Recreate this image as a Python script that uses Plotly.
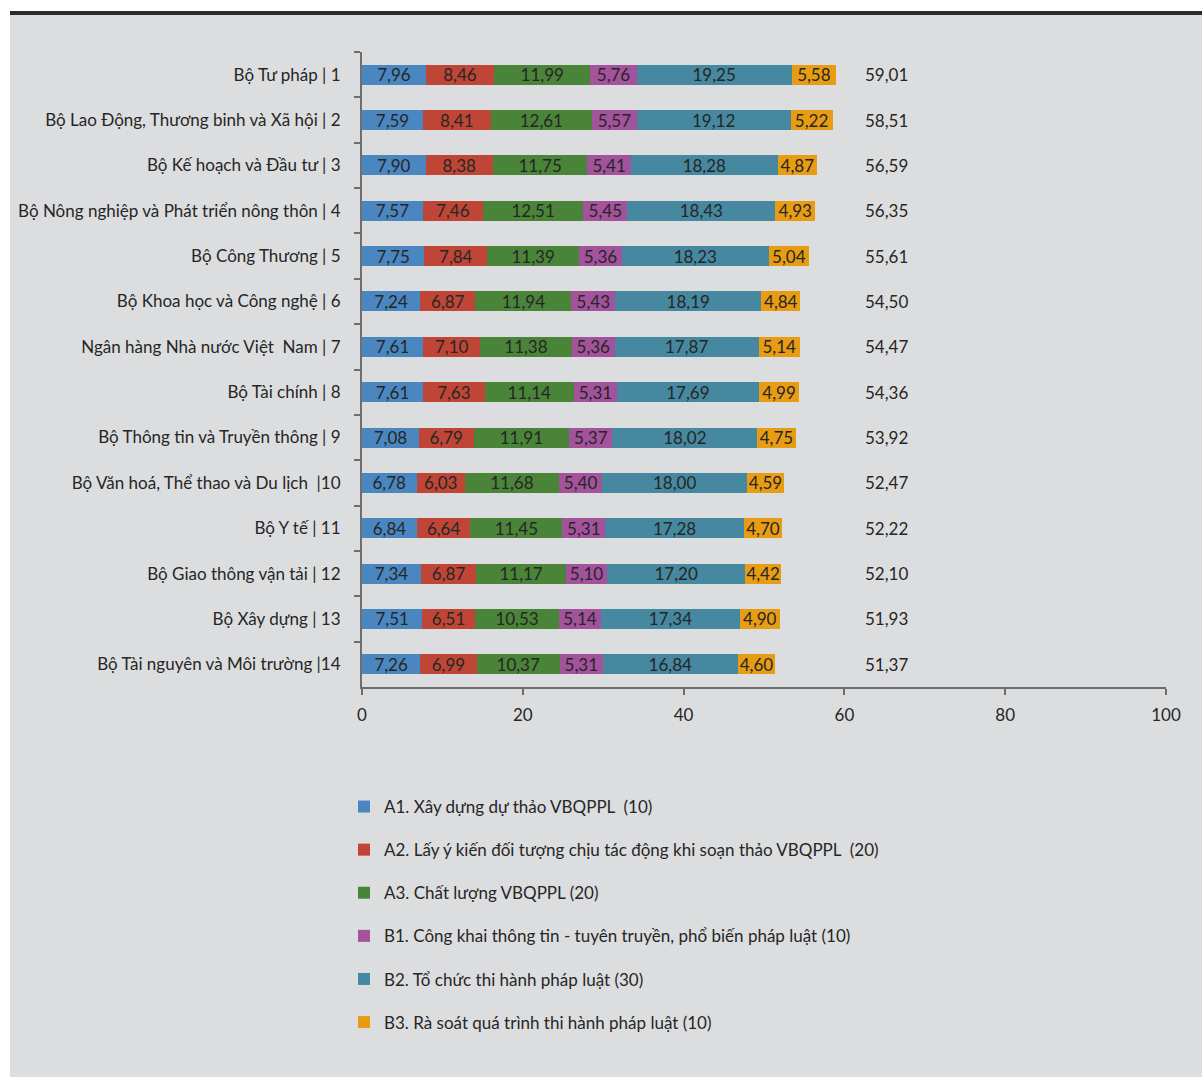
import plotly.graph_objects as go

categories = [
    "Bộ Tư pháp | 1",
    "Bộ Lao Động, Thương binh và Xã hội | 2",
    "Bộ Kế hoạch và Đầu tư | 3",
    "Bộ Nông nghiệp và Phát triển nông thôn | 4",
    "Bộ Công Thương | 5",
    "Bộ Khoa học và Công nghệ | 6",
    "Ngân hàng Nhà nước Việt  Nam | 7",
    "Bộ Tài chính | 8",
    "Bộ Thông tin và Truyền thông | 9",
    "Bộ Văn hoá, Thể thao và Du lịch  |10",
    "Bộ Y tế | 11",
    "Bộ Giao thông vận tải | 12",
    "Bộ Xây dựng | 13",
    "Bộ Tài nguyên và Môi trường |14",
]

a1 = [7.96, 7.59, 7.90, 7.57, 7.75, 7.24, 7.61, 7.61, 7.08, 6.78, 6.84, 7.34, 7.51, 7.26]
a2 = [8.46, 8.41, 8.38, 7.46, 7.84, 6.87, 7.10, 7.63, 6.79, 6.03, 6.64, 6.87, 6.51, 6.99]
a3 = [11.99, 12.61, 11.75, 12.51, 11.39, 11.94, 11.38, 11.14, 11.91, 11.68, 11.45, 11.17, 10.53, 10.37]
b1 = [5.76, 5.57, 5.41, 5.45, 5.36, 5.43, 5.36, 5.31, 5.37, 5.40, 5.31, 5.10, 5.14, 5.31]
b2 = [19.25, 19.12, 18.28, 18.43, 18.23, 18.19, 17.87, 17.69, 18.02, 18.00, 17.28, 17.20, 17.34, 16.84]
b3 = [5.58, 5.22, 4.87, 4.93, 5.04, 4.84, 5.14, 4.99, 4.75, 4.59, 4.70, 4.42, 4.90, 4.60]
totals = [59.01, 58.51, 56.59, 56.35, 55.61, 54.50, 54.47, 54.36, 53.92, 52.47, 52.22, 52.10, 51.93, 51.37]

series_names = [
    "A1. Xây dựng dự thảo VBQPPL  (10)",
    "A2. Lấy ý kiến đối tượng chịu tác động khi soạn thảo VBQPPL  (20)",
    "A3. Chất lượng VBQPPL (20)",
    "B1. Công khai thông tin - tuyên truyền, phổ biến pháp luật (10)",
    "B2. Tổ chức thi hành pháp luật (30)",
    "B3. Rà soát quá trình thi hành pháp luật (10)",
]
series_values = [a1, a2, a3, b1, b2, b3]
colors = ["#4a86bf", "#bf4636", "#4a8438", "#a3529c", "#45889f", "#e89c12"]

FONT = "Lato, 'Open Sans', sans-serif"
BG = "#dcdddf"
TXT = "#262626"

fig = go.Figure()
for name, vals, col in zip(series_names, series_values, colors):
    fig.add_trace(go.Bar(
        y=categories, x=vals, name=name, orientation="h",
        marker=dict(color=col, line=dict(width=0)),
        width=0.44,
        texttemplate="%{x:.2f}", textposition="inside",
        insidetextanchor="middle", textangle=0, constraintext="none",
        textfont=dict(family=FONT, size=17, color=TXT),
        legendgroup=name,
    ))

for cat, t in zip(categories, totals):
    fig.add_annotation(
        x=62.3, y=cat, xref="x", yref="y",
        text=f"{t:.2f}".replace(".", ","), showarrow=False,
        xanchor="left", yanchor="middle",
        font=dict(family=FONT, size=17, color=TXT),
    )

# plot area: x 362..1166 px, y 52..687 px
W, H = 1202, 1077
L, R, T, B = 362, 36, 52, 390
pw, ph = W - L - R, H - T - B

def px_x(p):
    return (p - L) / pw

def px_y(p):
    return (H - B - p) / ph

shapes = [
    dict(type="rect", xref="paper", yref="paper", x0=px_x(-5), x1=px_x(10),
         y0=px_y(H + 5), y1=px_y(-5), fillcolor="white", line=dict(width=0), layer="below"),
    dict(type="rect", xref="paper", yref="paper", x0=px_x(-5), x1=px_x(W + 5),
         y0=px_y(12), y1=px_y(-5), fillcolor="white", line=dict(width=0), layer="below"),
    dict(type="rect", xref="paper", yref="paper", x0=px_x(10), x1=px_x(W + 5),
         y0=px_y(15), y1=px_y(11), fillcolor="#2b2b2b", line=dict(width=0), layer="below"),
]

fig.update_layout(
    width=W, height=H,
    barmode="stack",
    separators=",.",
    paper_bgcolor=BG, plot_bgcolor=BG,
    margin=dict(l=L, r=R, t=T, b=B, pad=0),
    font=dict(family=FONT, size=17, color=TXT),
    shapes=shapes,
    showlegend=True,
    legend=dict(
        orientation="v", x=px_x(344), y=px_y(789), xanchor="left", yanchor="top",
        traceorder="grouped", tracegroupgap=18,
        font=dict(family=FONT, size=17, color=TXT),
        bgcolor="rgba(0,0,0,0)", itemwidth=30,
    ),
    bargap=0.5,
)
fig.update_xaxes(
    range=[0, 100], tickvals=[0, 20, 40, 60, 80, 100],
    showgrid=False, zeroline=False,
    showline=True, linecolor="#6e6e6e", linewidth=2,
    ticks="outside", ticklen=6, tickcolor="#6e6e6e", tickwidth=2,
    tickfont=dict(family=FONT, size=17, color=TXT),
    ticklabelstandoff=6,
)
fig.update_yaxes(
    autorange="reversed", categoryorder="array", categoryarray=categories,
    showgrid=False, zeroline=False,
    showline=True, linecolor="#6e6e6e", linewidth=2,
    ticks="outside", ticklen=6, tickcolor="#6e6e6e", tickwidth=2,
    tickson="boundaries",
    tickfont=dict(family=FONT, size=17, color=TXT),
    ticklabelstandoff=16,
)

fig.write_html("out.html", config={"displayModeBar": False},
               post_script="document.body.style.margin='0';")
